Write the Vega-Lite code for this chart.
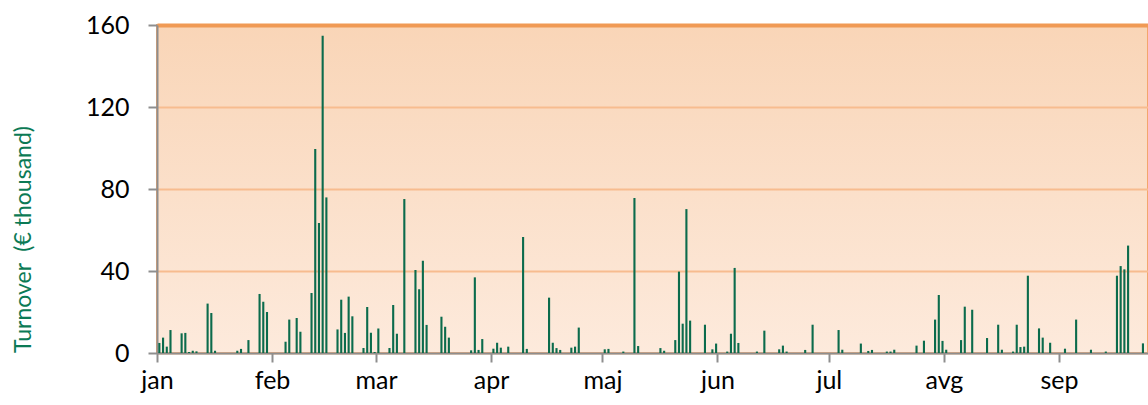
{
  "$schema": "https://vega.github.io/schema/vega-lite/v6.json",
  "width": 991,
  "height": 328,
  "autosize": {"type": "none"},
  "padding": {"left": 157, "top": 25, "right": 0, "bottom": 52},
  "background": "white",
  "config": {
    "font": "Lato",
    "view": {
      "stroke": "#f3a66c",
      "strokeWidth": 2,
      "fill": {"gradient": "linear", "x1": 0, "y1": 0, "x2": 0, "y2": 1, "stops": [{"offset": 0, "color": "#f9d5b7"}, {"offset": 1, "color": "#fdeadc"}]}
    }
  },
  "data": {"values": [
    {"date": "2015-01-01", "v": 4.9}, {"date": "2015-01-02", "v": 7.5}, {"date": "2015-01-03", "v": 3.1}, {"date": "2015-01-04", "v": 11.2},
    {"date": "2015-01-07", "v": 9.6}, {"date": "2015-01-08", "v": 9.8}, {"date": "2015-01-09", "v": 0.5}, {"date": "2015-01-10", "v": 1.1},
    {"date": "2015-01-11", "v": 0.8}, {"date": "2015-01-14", "v": 24.1}, {"date": "2015-01-15", "v": 19.5}, {"date": "2015-01-16", "v": 1.1},
    {"date": "2015-01-22", "v": 1.1}, {"date": "2015-01-23", "v": 2.0}, {"date": "2015-01-25", "v": 6.3}, {"date": "2015-01-28", "v": 28.8},
    {"date": "2015-01-29", "v": 25.0}, {"date": "2015-01-30", "v": 20.0}, {"date": "2015-02-04", "v": 5.5}, {"date": "2015-02-05", "v": 16.3},
    {"date": "2015-02-07", "v": 17.1}, {"date": "2015-02-08", "v": 10.4}, {"date": "2015-02-11", "v": 29.3}, {"date": "2015-02-12", "v": 99.5},
    {"date": "2015-02-13", "v": 63.4}, {"date": "2015-02-14", "v": 154.8}, {"date": "2015-02-15", "v": 75.9}, {"date": "2015-02-18", "v": 11.5},
    {"date": "2015-02-19", "v": 26.0}, {"date": "2015-02-20", "v": 9.8}, {"date": "2015-02-21", "v": 27.5}, {"date": "2015-02-22", "v": 17.9},
    {"date": "2015-02-25", "v": 2.4}, {"date": "2015-02-26", "v": 22.4}, {"date": "2015-02-27", "v": 9.9}, {"date": "2015-02-28", "v": 0.5},
    {"date": "2015-03-01", "v": 12.0}, {"date": "2015-03-04", "v": 2.4}, {"date": "2015-03-05", "v": 23.4}, {"date": "2015-03-06", "v": 9.4},
    {"date": "2015-03-08", "v": 75.1}, {"date": "2015-03-11", "v": 40.5}, {"date": "2015-03-12", "v": 31.1}, {"date": "2015-03-13", "v": 45.0},
    {"date": "2015-03-14", "v": 13.7}, {"date": "2015-03-18", "v": 17.7}, {"date": "2015-03-19", "v": 12.8}, {"date": "2015-03-20", "v": 7.5},
    {"date": "2015-03-26", "v": 1.3}, {"date": "2015-03-27", "v": 36.9}, {"date": "2015-03-28", "v": 1.5}, {"date": "2015-03-29", "v": 6.8},
    {"date": "2015-04-01", "v": 2.1}, {"date": "2015-04-02", "v": 5.0}, {"date": "2015-04-03", "v": 2.6}, {"date": "2015-04-05", "v": 3.1},
    {"date": "2015-04-09", "v": 56.6}, {"date": "2015-04-10", "v": 2.0}, {"date": "2015-04-16", "v": 27.0}, {"date": "2015-04-17", "v": 5.0},
    {"date": "2015-04-18", "v": 2.4}, {"date": "2015-04-19", "v": 1.5}, {"date": "2015-04-22", "v": 2.6}, {"date": "2015-04-23", "v": 3.1},
    {"date": "2015-04-24", "v": 12.4}, {"date": "2015-05-01", "v": 1.8}, {"date": "2015-05-02", "v": 2.0}, {"date": "2015-05-06", "v": 0.7},
    {"date": "2015-05-09", "v": 75.6}, {"date": "2015-05-10", "v": 3.4}, {"date": "2015-05-16", "v": 2.4}, {"date": "2015-05-17", "v": 1.1},
    {"date": "2015-05-20", "v": 6.3}, {"date": "2015-05-21", "v": 39.7}, {"date": "2015-05-22", "v": 14.3}, {"date": "2015-05-23", "v": 70.2},
    {"date": "2015-05-24", "v": 15.8}, {"date": "2015-05-28", "v": 13.8}, {"date": "2015-05-30", "v": 1.8}, {"date": "2015-05-31", "v": 4.6},
    {"date": "2015-06-03", "v": 0.7}, {"date": "2015-06-04", "v": 9.4}, {"date": "2015-06-05", "v": 41.5}, {"date": "2015-06-06", "v": 4.9},
    {"date": "2015-06-11", "v": 0.7}, {"date": "2015-06-13", "v": 10.9}, {"date": "2015-06-17", "v": 1.8}, {"date": "2015-06-18", "v": 3.6},
    {"date": "2015-06-19", "v": 0.7}, {"date": "2015-06-24", "v": 1.5}, {"date": "2015-06-26", "v": 13.8}, {"date": "2015-07-03", "v": 11.2},
    {"date": "2015-07-04", "v": 1.6}, {"date": "2015-07-09", "v": 4.6}, {"date": "2015-07-11", "v": 1.0}, {"date": "2015-07-12", "v": 1.5},
    {"date": "2015-07-16", "v": 0.7}, {"date": "2015-07-17", "v": 0.7}, {"date": "2015-07-18", "v": 1.6}, {"date": "2015-07-24", "v": 3.6},
    {"date": "2015-07-26", "v": 6.0}, {"date": "2015-07-29", "v": 16.3}, {"date": "2015-07-30", "v": 28.3}, {"date": "2015-07-31", "v": 5.9},
    {"date": "2015-08-01", "v": 1.6}, {"date": "2015-08-05", "v": 6.3}, {"date": "2015-08-06", "v": 22.6}, {"date": "2015-08-08", "v": 21.1},
    {"date": "2015-08-12", "v": 7.3}, {"date": "2015-08-15", "v": 13.8}, {"date": "2015-08-16", "v": 1.6}, {"date": "2015-08-19", "v": 0.7},
    {"date": "2015-08-20", "v": 13.8}, {"date": "2015-08-21", "v": 2.9}, {"date": "2015-08-22", "v": 3.1}, {"date": "2015-08-23", "v": 37.7},
    {"date": "2015-08-26", "v": 12.0}, {"date": "2015-08-27", "v": 7.5}, {"date": "2015-08-29", "v": 5.0}, {"date": "2015-09-02", "v": 2.1},
    {"date": "2015-09-05", "v": 16.3}, {"date": "2015-09-09", "v": 1.6}, {"date": "2015-09-13", "v": 0.7}, {"date": "2015-09-16", "v": 37.7},
    {"date": "2015-09-17", "v": 42.4}, {"date": "2015-09-18", "v": 40.8}, {"date": "2015-09-19", "v": 52.4}, {"date": "2015-09-23", "v": 4.7}
  ]},
  "mark": {"type": "bar", "color": "#0b6b4c", "binSpacing": 1.6},
  "encoding": {
    "x": {
      "field": "date",
      "type": "temporal",
      "timeUnit": "utcyearmonthdate",
      "scale": {"type": "utc", "domain": [{"year": 2015, "month": 1, "date": 1, "utc": true}, {"year": 2015, "month": 9, "date": 25, "utc": true}]},
      "axis": {
        "title": null,
        "grid": false,
        "tickCount": {"interval": "month", "step": 1},
        "labelExpr": "['jan','feb','mar','apr','maj','jun','jul','avg','sep','okt','nov','dec'][utcmonth(datum.value)]",
        "labelFlush": false,
        "labelOverlap": false,
        "labelAlign": "center",
        "labelFontSize": 25,
        "labelColor": "#000000",
        "labelPadding": 6,
        "domainColor": "#8e8e8e",
        "domainWidth": 2,
        "tickColor": "#8e8e8e",
        "tickWidth": 2,
        "tickSize": 9
      }
    },
    "y": {
      "field": "v",
      "type": "quantitative",
      "scale": {"domain": [0, 160], "nice": false},
      "axis": {
        "title": "Turnover\u00a0 (€ thousand)",
        "titleColor": "#0b7a55",
        "titleFontSize": 23,
        "titleFontWeight": "normal",
        "titleAngle": -90,
        "titleX": -134,
        "titleY": 214,
        "titleAlign": "center",
        "titleBaseline": "middle",
        "values": [0, 40, 80, 120, 160],
        "labelFontSize": 25,
        "labelColor": "#000000",
        "labelPadding": 19,
        "domainColor": "#8e8e8e",
        "domainWidth": 2,
        "tickColor": "#8e8e8e",
        "tickWidth": 2,
        "tickSize": 9,
        "grid": true,
        "gridColor": {"condition": {"test": "datum.value === 160", "value": "#f09a55"}, "value": "#f7bc8f"},
        "gridWidth": {"condition": {"test": "datum.value === 160", "value": 4}, "value": 2}
      }
    }
  }
}
